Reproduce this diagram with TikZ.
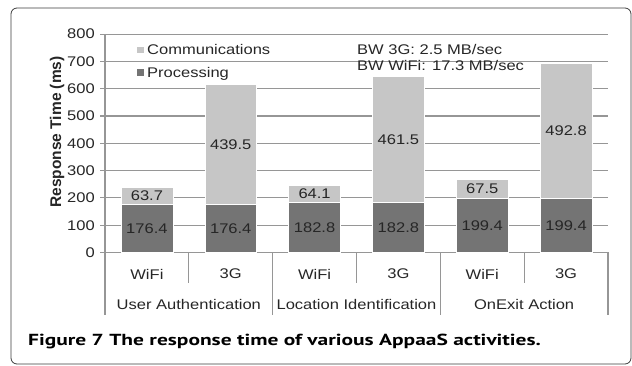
\documentclass[tikz,border=0pt]{standalone}
\usepackage{fontspec}
\setmainfont{Liberation Sans}
\newfontfamily\chartfont[FakeStretch=1.18]{Liberation Sans}
\newfontfamily\capfont[FakeStretch=1.34]{PT Sans}
\usetikzlibrary{positioning}
\definecolor{commgray}{RGB}{198,198,198}
\definecolor{procgray}{RGB}{116,116,116}
\definecolor{gridgray}{RGB}{150,150,150}
\definecolor{framegray}{RGB}{60,60,60}

\begin{document}
\begin{tikzpicture}[x=1pt, y=1pt,
  gridline/.style={draw=gridgray, line width=1.1pt},
  comm/.style={fill=commgray, draw=white, line width=0.5pt},
  proc/.style={fill=procgray, draw=white, line width=0.5pt},
  keybox/.style={minimum width=7.6pt, minimum height=6.8pt, inner sep=0pt},
  val/.style={font=\chartfont\fontsize{14}{16}\selectfont, text=black!85, inner sep=1pt}
]
\useasboundingbox (0,0) rectangle (632,366);
\draw[framegray, line width=0.8pt, rounded corners=6pt] (11,2) rectangle (631,358);

% chart area: x in categories, y in ms
\begin{scope}[shift={(105,113.5)}, x=83.83pt, y=0.273pt]
  \foreach \v in {100,200,...,800}
    \draw[gridline] (0,\v) -- (6,\v);
  \foreach \v in {0,100,...,800} {
    \draw[gridline] ([xshift=-5pt]0,\v) -- (0,\v);
    \node[val, anchor=east] (t\v) at ([xshift=-9pt]0,\v) {\v};
  }
  \draw[gridline] (0,0) -- (0,800);
  \draw[gridline] (0,0) -- (6,0);

  \foreach \i/\pr/\cm in {1/176.4/63.7, 2/176.4/439.5, 3/182.8/64.1,
                          4/182.8/461.5, 5/199.4/67.5, 6/199.4/492.8} {
    \pgfmathsetmacro\tot{\pr+\cm}
    \draw[proc] (\i-0.81,0) rectangle (\i-0.19,\pr);
    \draw[comm] (\i-0.81,\pr) rectangle (\i-0.19,\tot);
    \node[val] (p\i) at (\i-0.5,\pr/2) {\pr};
    \node[val] (c\i) at (\i-0.5,\pr+\cm/2) {\cm};
  }

  % axis labels below
  \foreach \x in {1,3,5}
    \draw[gridline] (\x,0) -- ([yshift=-31pt]\x,0);
  \foreach \x in {0,2,4,6}
    \draw[gridline] (\x,0) -- ([yshift=-63pt]\x,0);
  \foreach \i/\s in {1/WiFi, 2/3G, 3/WiFi, 4/3G, 5/WiFi, 6/3G}
    \node[val] (s\i) at ([yshift=-21.5pt]\i-0.5,0) {\s};
  \foreach \k/\n in {1/User Authentication, 3/Location Identification, 5/OnExit Action}
    \node[val] (g\k) at ([yshift=-52.5pt]\k,0) {\n};
\end{scope}

% legend and notes
\node[keybox, fill=commgray] (kc) at (140.5,316) {};
\node[keybox, fill=procgray] (kp) at (140.5,293.3) {};
\node[val, anchor=base west] (lc) at (146,311.7) {Communications};
\node[val, anchor=base west] (lp) at (146,288.7) {Processing};
\node[val, anchor=base west] (bw3g) at (356,311.7) {BW 3G: 2.5 MB/sec};
\node[val, anchor=base west] (bwwifi) at (356,295) {BW WiFi: 17.3 MB/sec};

\node[rotate=90, anchor=base, inner sep=0pt, font=\bfseries\fontsize{15.5}{18}\selectfont,
  text=black!85] (ytitle) at (61,234) {Response Time (ms)};

\node[anchor=base west, inner sep=0pt, font=\capfont\bfseries\fontsize{16}{18}\selectfont]
  (caption) at (28,20.3) {Figure 7 The response time of various AppaaS activities.};
\end{tikzpicture}
\end{document}
